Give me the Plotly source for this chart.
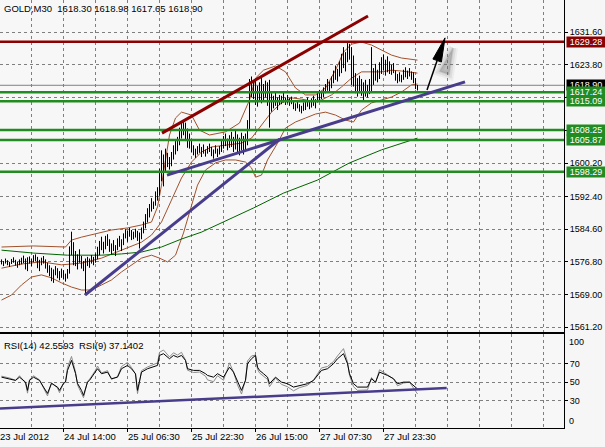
import math
import plotly.graph_objects as go

# ---------------- price bars (GOLD, M30), bar index 0..208 ----------------
highs = [
    1577.4, 1577.0, 1577.6, 1577.2, 1576.8, 1577.5, 1577.9, 1577.3, 1576.9, 1577.4,
    1577.8, 1578.3, 1577.6, 1577.9, 1578.1, 1577.5, 1578.4,
    1578.6, 1578.0, 1577.3, 1577.8, 1578.2, 1577.4, 1576.6,
    1576.0, 1575.4, 1575.0, 1575.8, 1575.3, 1574.6, 1575.2, 1574.8, 1574.0, 1575.1,
    1580.5, 1584.0, 1581.5,
    1579.4, 1578.6, 1579.8, 1578.2, 1577.0,
    1577.6,
    1578.0, 1577.6, 1578.4, 1578.0, 1578.8, 1580.4,
    1581.8, 1582.8, 1581.6, 1583.0, 1583.4, 1582.2,
    1581.2, 1582.0, 1580.8, 1582.4, 1583.0, 1582.2, 1583.6,
    1584.6, 1584.2, 1584.9, 1584.4, 1584.0, 1584.7, 1584.2,
    1583.8,
    1585.0, 1586.4, 1588.2, 1589.6, 1590.6,
    1592.0, 1591.2, 1593.6, 1594.6,
    1599.0, 1603.4, 1602.4, 1603.8, 1602.8, 1601.8, 1603.0,
    1604.6, 1605.8, 1606.6,
    1608.8, 1610.2, 1610.6, 1610.0,
    1608.6, 1607.4, 1606.0,
    1604.6, 1603.8, 1604.4, 1605.0, 1604.2, 1604.8, 1603.6, 1604.4, 1605.0,
    1604.2, 1603.6, 1604.6, 1603.8, 1604.4,
    1605.6, 1606.8, 1607.4, 1606.2, 1607.0,
    1607.8, 1606.6, 1608.0, 1607.2, 1606.4, 1607.6, 1606.8, 1607.4,
    1610.6, 1620.4,
    1621.0, 1619.8,
    1620.4, 1618.8, 1619.6,
    1620.8, 1619.2, 1620.0,
    1619.6, 1620.2, 1617.0,
    1616.4, 1617.2, 1616.0, 1616.6,
    1616.4, 1617.2, 1616.0, 1616.6, 1615.8, 1616.2,
    1615.0, 1614.6, 1615.2, 1614.4, 1614.0, 1614.8,
    1615.4, 1616.0, 1615.2, 1615.8, 1616.4, 1615.6,
    1617.0, 1617.8, 1617.4, 1618.4,
    1619.2, 1620.4, 1619.8, 1621.0,
    1622.4, 1623.6, 1622.8, 1624.6,
    1626.4, 1628.0, 1626.8,
    1629.3, 1628.8, 1628.0, 1626.0,
    1621.8, 1620.6, 1621.2,
    1620.4, 1619.6, 1620.2, 1619.0, 1620.4,
    1628.0,
    1623.0, 1624.0, 1622.6, 1624.4,
    1625.6, 1626.2, 1625.0, 1625.8,
    1624.6, 1623.8, 1624.2,
    1622.4, 1621.6, 1622.0, 1621.4,
    1622.6, 1623.2, 1622.4, 1623.0, 1622.2,
    1622.0, 1620.6, 1618.98,
]
lows = [
    1576.2, 1575.8, 1576.4, 1576.0, 1575.6, 1576.3, 1576.6, 1575.9, 1575.4, 1576.0,
    1576.2, 1576.5, 1575.0, 1574.6, 1576.4, 1575.8, 1576.7,
    1576.9, 1575.3, 1574.6, 1576.0, 1576.4, 1575.2, 1574.2,
    1573.4, 1572.2, 1571.8, 1573.6, 1572.9, 1572.4, 1573.0, 1572.6, 1572.1, 1572.8,
    1574.0, 1578.4, 1576.0,
    1575.8, 1575.0, 1576.6, 1575.2, 1574.6,
    1569.2,
    1575.8, 1575.4, 1576.4, 1576.0, 1576.6, 1577.4,
    1578.4, 1579.6, 1578.8, 1579.8, 1580.6, 1579.2,
    1578.6, 1579.4, 1578.2, 1579.6, 1580.4, 1579.4, 1580.8,
    1582.4, 1581.6, 1582.8, 1582.0, 1582.2, 1582.6, 1581.8,
    1580.0,
    1582.2, 1583.6, 1584.8, 1586.2, 1587.4,
    1588.8, 1589.4, 1590.2, 1591.4,
    1592.6, 1596.0, 1594.8, 1598.0, 1599.4, 1598.8, 1599.6,
    1601.2, 1602.4, 1603.2,
    1604.6, 1606.2, 1607.0, 1605.6,
    1604.0, 1603.8, 1603.0,
    1602.2, 1601.6, 1602.4, 1602.8, 1601.8, 1602.6, 1601.9, 1602.6, 1603.0,
    1602.0, 1601.4, 1602.6, 1601.8, 1602.4,
    1603.0, 1603.8, 1604.4, 1603.4, 1604.0,
    1604.2, 1603.0, 1603.6, 1602.6, 1602.2, 1603.4, 1602.4, 1603.2,
    1604.6, 1608.4,
    1616.0, 1615.6,
    1614.2, 1613.8, 1615.0,
    1614.6, 1615.4, 1616.0,
    1614.0, 1608.8, 1612.6,
    1613.4, 1614.0, 1613.0, 1614.2,
    1614.4, 1614.8, 1614.2, 1614.6, 1614.0, 1614.4,
    1613.2, 1612.8, 1613.4, 1612.6, 1612.2, 1612.8,
    1613.0, 1613.8, 1613.2, 1613.6, 1614.0, 1613.4,
    1614.8, 1615.4, 1615.6, 1616.0,
    1617.0, 1617.6, 1617.4, 1618.2,
    1619.4, 1620.2, 1619.8, 1621.0,
    1621.8, 1623.0, 1622.2,
    1624.4, 1625.0, 1619.0, 1618.6,
    1617.0, 1616.2, 1617.0,
    1616.4, 1615.0, 1616.2, 1616.0, 1616.8,
    1617.2,
    1619.0, 1620.0, 1619.6, 1620.4,
    1621.6, 1622.4, 1621.2, 1622.0,
    1621.6, 1621.4, 1621.8,
    1620.0, 1619.4, 1619.8, 1619.6,
    1620.2, 1620.8, 1620.4, 1621.0, 1620.2,
    1619.4, 1618.0, 1617.65,
]

# ---------------- Bollinger bands (bar index, price) ----------------
bb_upper_idx = [0, 16, 32, 35, 40, 48, 55, 63, 70, 75, 78, 80, 82, 84, 87, 90, 95, 99, 104,
                112, 119, 124, 127, 131, 137, 142, 147, 152, 157, 162, 167, 171, 175, 180,
                185, 190, 195, 200, 208]
bb_upper = [1580.35, 1580.6, 1580.35, 1582.0, 1582.7, 1583.7, 1584.4, 1584.9, 1585.6, 1586.3,
            1589.9, 1595.1, 1601.1, 1607.05, 1611.1, 1612.5, 1611.8, 1608.2, 1607.05,
            1607.8, 1609.9, 1615.4, 1620.6, 1622.5, 1623.5, 1622.1, 1618.25, 1616.6, 1616.6,
            1618.25, 1622.5, 1626.8, 1628.7, 1629.2, 1628.5, 1627.3, 1626.1, 1625.4, 1624.9]
bb_mid_idx = [0, 10, 20, 30, 40, 50, 60, 70, 75, 80, 85, 90, 95, 100, 105, 115, 120, 125, 130,
              135, 140, 145, 150, 155, 160, 165, 170, 175, 180, 190, 195, 200, 208]
bb_mid = [1575.3, 1576.3, 1576.8, 1576.1, 1576.5, 1577.7, 1579.6, 1581.5, 1583.2, 1586.3,
          1591.55, 1596.8, 1600.6, 1603.0, 1604.2, 1604.7, 1605.1, 1606.3, 1609.4, 1612.5,
          1614.7, 1615.9, 1615.6, 1615.15, 1615.4, 1616.6, 1618.5, 1620.6, 1622.1, 1622.1,
          1622.5, 1622.3, 1621.8]
bb_lower_idx = [0, 5, 10, 15, 20, 25, 30, 35, 40, 45, 50, 55, 60, 65, 70, 75, 79, 83, 87, 91,
                95, 98, 102, 107, 112, 117, 122, 125, 127, 130, 133, 138, 142, 147, 152, 157,
                162, 167, 172, 176, 180, 185, 190, 195, 200, 205, 208]
bb_lower = [1567.7, 1568.9, 1571.3, 1573.2, 1573.7, 1573.0, 1571.8, 1570.8, 1570.1, 1570.1,
            1571.3, 1572.5, 1574.4, 1576.1, 1577.7, 1578.4, 1577.7, 1576.8, 1578.4, 1583.7,
            1589.9, 1595.1, 1598.7, 1600.4, 1601.1, 1601.1, 1600.6, 1599.2, 1597.0, 1597.5,
            1601.1, 1605.1, 1608.7, 1610.15, 1611.1, 1612.05, 1612.5, 1611.8, 1610.6, 1610.15,
            1613.0, 1614.7, 1615.4, 1616.1, 1617.3, 1619.0, 1619.2]

# ---------------- long moving average ----------------
ma_idx = [0, 16, 33, 50, 60, 70, 80, 90, 100, 113, 126, 141, 158, 174, 190, 208]
ma_vals = [1579.6, 1578.9, 1578.4, 1578.4, 1578.7, 1579.15, 1580.35, 1582.25, 1583.9,
           1586.8, 1589.65, 1593.2, 1596.3, 1600.4, 1603.5, 1606.3]

# ---------------- horizontal levels ----------------
green_levels = [1617.24, 1615.09, 1608.25, 1605.87, 1598.29]
red_level = 1629.28
last_price = 1618.90

# ---------------- drawn trend lines (bar index, price) ----------------
blue_line_a = ([41.75, 139.25], [1568.9, 1606.1])
blue_line_b = ([82.75, 231.75], [1597.5, 1619.7])
red_line = ([80.25, 183.25], [1607.5, 1635.4])
arrow_tail = (212.75, 1617.8)
arrow_tip = (221.75, 1630.2)

# ---------------- RSI ----------------
rsi_idx = [0, 4, 7, 9, 12, 13, 14, 16, 19, 21, 23, 25, 28, 29, 31, 32, 33, 35, 37, 38,
           40, 41, 43, 44, 47, 48, 50, 53, 55, 58, 60, 63, 65, 67, 68, 70, 73, 75, 78, 79,
           81, 84, 86, 88, 90, 92, 93, 96, 99, 102, 103, 106, 108, 111, 114, 116, 118, 120,
           122, 123, 125, 127, 128, 129, 131, 133, 134, 137, 140, 143, 146, 149, 153, 156,
           158, 160, 163, 166, 168, 171, 173, 174, 176, 178, 183, 185, 187, 189, 193, 196,
           198, 201, 204, 206, 208]
rsi14 = [55.4, 53.7, 51.9, 55.4, 50.0, 41.0, 51.9, 55.4, 51.9, 44.6,
         37.7, 48.6, 44.6, 41.0, 48.6, 50.0, 62.8, 73.7, 59.5, 48.6,
         41.0, 35.5, 50.0, 51.9, 60.9, 64.6, 59.2, 60.9, 53.7, 55.4,
         64.6, 68.2, 64.6, 59.2, 41.0, 60.9, 64.6, 66.3, 68.2, 79.1,
         81.0, 75.5, 79.1, 77.2, 79.1, 73.7, 64.6, 62.8, 62.8, 59.2,
         57.3, 55.4, 59.2, 55.4, 66.3, 60.9, 50.0, 41.0, 51.9, 70.1,
         75.5, 79.1, 66.3, 62.8, 59.2, 55.4, 48.3, 55.4, 50.0, 48.3,
         44.6, 46.4, 48.3, 51.9, 57.3, 62.8, 64.6, 70.1, 75.5, 81.0,
         70.1, 59.2, 48.3, 44.6, 44.6, 53.7, 50.0, 60.9, 57.3, 53.7,
         48.3, 50.0, 50.0, 46.4, 42.5593]
rsi9 = [56.5, 54.5, 52.0, 57.0, 49.0, 38.0, 52.5, 57.0, 52.5, 43.0,
        35.0, 49.5, 43.5, 38.5, 49.0, 50.5, 66.0, 78.0, 61.0, 47.0,
        38.0, 33.0, 51.0, 53.0, 63.0, 67.5, 60.0, 62.5, 53.0, 56.0,
        67.0, 71.5, 66.0, 58.5, 37.5, 62.5, 66.5, 68.5, 71.0, 82.5,
        85.0, 77.5, 82.0, 79.5, 82.5, 74.0, 63.0, 60.5, 61.0, 56.5,
        52.5, 50.5, 57.0, 52.0, 71.0, 61.0, 47.0, 37.0, 52.5, 73.0,
        78.5, 79.5, 64.0, 60.0, 56.5, 53.0, 45.0, 54.5, 47.5, 45.0,
        40.5, 44.0, 46.5, 52.0, 59.0, 65.5, 67.0, 72.5, 78.5, 86.5,
        72.0, 57.5, 45.0, 41.0, 41.5, 55.0, 49.0, 63.5, 58.0, 53.5,
        46.0, 49.0, 50.0, 44.0, 37.1402]
rsi_trend = ([-0.75, 222.6], [21.3, 43.5])

# ---------------- axes ticks / labels ----------------
price_ticks = [1631.6, 1623.8, 1616.0, 1608.2, 1600.3, 1592.4, 1584.6, 1576.8, 1569.0, 1561.2]
price_tick_text = ["1631.60", "1623.80", "", "", "1600.20", "1592.40", "1584.60",
                   "1576.80", "1569.00", "1561.20"]
rsi_ticks = [70, 50, 30]
rsi_tick_text = ["70", "50", "30"]
grid_idx = [15 + 16 * k for k in range(17)]
time_label_idx = [-1, 31, 63, 95, 127, 159, 191]
time_labels = ["23 Jul 2012", "24 Jul 14:00", "25 Jul 06:30", "25 Jul 22:30",
               "26 Jul 15:00", "27 Jul 07:30", "27 Jul 23:30"]

# ---------------- layout constants ----------------
W, H = 605, 447
M_L, M_R, M_T, M_B = 0, 41, 0, 19
X_RANGE = [-0.75, 281.25]
PRICE_RANGE = [1560.16, 1639.23]
MAIN_DOMAIN = [0.225, 1.0]
RSI_DOMAIN = [0.0, 0.2196]
FONT = "Liberation Sans"
GREEN = "#228b22"
DARKRED = "#8b0000"
BLUE = "#483d8b"
BROWN = "#a0522d"
GRID = "#7f7f7f"

plot_w = W - M_L - M_R
plot_h = H - M_T - M_B
px_per_bar = plot_w / (X_RANGE[1] - X_RANGE[0])
px_per_price = plot_h * (MAIN_DOMAIN[1] - MAIN_DOMAIN[0]) / (PRICE_RANGE[1] - PRICE_RANGE[0])

fig = go.Figure()


def add_line(x, y, color, width, xa="x", ya="y", **kw):
    fig.add_trace(go.Scatter(x=x, y=y, mode="lines", line=dict(color=color, width=width),
                             hoverinfo="skip", showlegend=False, xaxis=xa, yaxis=ya, **kw))


# Bollinger bands and MA
add_line(bb_upper_idx, bb_upper, BROWN, 1)
add_line(bb_mid_idx, bb_mid, BROWN, 1)
add_line(bb_lower_idx, bb_lower, BROWN, 1)
add_line(ma_idx, ma_vals, "#006400", 1)

# current price line
add_line(X_RANGE, [last_price, last_price], "#808080", 1)

# price bars
bx, by = [], []
for i, (h, l) in enumerate(zip(highs, lows)):
    bx += [i, i, None]
    by += [l, h, None]
add_line(bx, by, "black", 1)

# horizontal levels
for lv in green_levels:
    add_line(X_RANGE, [lv, lv], GREEN, 2.5)
add_line(X_RANGE, [red_level, red_level], DARKRED, 2.5)

# trend lines
add_line(blue_line_a[0], blue_line_a[1], BLUE, 3)
add_line(blue_line_b[0], blue_line_b[1], BLUE, 3)
add_line(red_line[0], red_line[1], DARKRED, 3)

# arrow object: shaft + narrow filled head, built from tail/tip
dxp = (arrow_tip[0] - arrow_tail[0]) * px_per_bar
dyp = (arrow_tip[1] - arrow_tail[1]) * px_per_price
ln = math.hypot(dxp, dyp)
ux, uy = dxp / ln, dyp / ln
head_len, head_half = 24.0, 4.5


def head_poly(ox=0.0, oy=0.0, grow=1.0):
    tx, ty = arrow_tip[0] + ox / px_per_bar, arrow_tip[1] + oy / px_per_price
    bxp, byp = -ux * head_len * grow, -uy * head_len * grow
    nx, ny = -uy * head_half * grow, ux * head_half * grow
    xs = [tx, tx + (bxp + nx) / px_per_bar, tx + (bxp - nx) / px_per_bar, tx]
    ys = [ty, ty + (byp + ny) / px_per_price, ty + (byp - ny) / px_per_price, ty]
    return xs, ys


base_x = arrow_tip[0] - ux * head_len / px_per_bar
base_y = arrow_tip[1] - uy * head_len / px_per_price
# soft blurred shadow (layered translucent copies)
for width, alpha in [(10, 0.08), (6, 0.12), (2, 0.18)]:
    sx, sy = head_poly(8, -10, 1.1)
    fig.add_trace(go.Scatter(x=sx, y=sy, mode="lines", fill="toself",
                             fillcolor=f"rgba(110,110,110,{alpha})",
                             line=dict(color=f"rgba(110,110,110,{alpha})", width=width),
                             hoverinfo="skip", showlegend=False))
add_line([arrow_tail[0], base_x], [arrow_tail[1], base_y], "black", 1.5)
hx, hy = head_poly()
fig.add_trace(go.Scatter(x=hx, y=hy, mode="lines", fill="toself", fillcolor="black",
                         line=dict(color="black", width=1), hoverinfo="skip", showlegend=False))

# RSI panel
add_line(rsi_idx, rsi9, "#8c8c8c", 1, "x2", "y2")
add_line(rsi_idx, rsi14, "black", 1, "x2", "y2")
add_line(rsi_trend[0], rsi_trend[1], BLUE, 2.5, "x2", "y2")

common_x = dict(range=X_RANGE, showgrid=True, gridcolor=GRID, griddash="3px,3px", gridwidth=1,
                tickvals=time_label_idx, showticklabels=False, zeroline=False,
                showline=True, linecolor="black", linewidth=1, fixedrange=True,
                minor=dict(tickvals=grid_idx, showgrid=True, gridcolor=GRID,
                           griddash="3px,3px", gridwidth=1, ticks=""))

fig.update_layout(
    width=W, height=H, autosize=False,
    margin=dict(l=M_L, r=M_R, t=M_T, b=M_B),
    paper_bgcolor="#f6f6f6", plot_bgcolor="#f7f7f7",
    showlegend=False,
    font=dict(family=FONT, size=9, color="black"),
    xaxis=dict(**common_x, anchor="y", ticks=""),
    xaxis2=dict(**common_x, anchor="y2", matches="x", mirror=True,
                ticks="outside", ticklen=3, tickcolor="black"),
    yaxis=dict(domain=MAIN_DOMAIN, range=PRICE_RANGE, side="right",
               tickvals=price_ticks, ticktext=price_tick_text,
               showgrid=True, gridcolor=GRID, griddash="3px,3px", gridwidth=1,
               ticks="outside", ticklen=3, tickcolor="black",
               showline=True, linecolor="black", linewidth=1, zeroline=False,
               tickfont=dict(family=FONT, size=9, color="black"), anchor="x"),
    yaxis2=dict(domain=RSI_DOMAIN, range=[0, 102.45], side="right",
                tickvals=rsi_ticks, ticktext=rsi_tick_text,
                showgrid=True, gridcolor=GRID, griddash="3px,3px", gridwidth=1,
                ticks="outside", ticklen=3, tickcolor="black",
                showline=True, linecolor="black", linewidth=1, zeroline=False,
                tickfont=dict(family=FONT, size=9, color="black"), anchor="x2"),
)

ann = []
ann.append(dict(text="GOLD,M30  1618.30 1618.98 1617.65 1618.90", xref="paper", yref="paper",
                x=0, y=1, xanchor="left", yanchor="top", xshift=2, yshift=-1,
                showarrow=False, font=dict(family=FONT, size=9.5, color="black")))
ann.append(dict(text="RSI(14) 42.5593  RSI(9) 37.1402", xref="paper", yref="paper",
                x=0, y=RSI_DOMAIN[1], xanchor="left", yanchor="top", xshift=2, yshift=-4,
                showarrow=False, font=dict(family=FONT, size=9.5, color="black")))
for xi, txt in zip(time_label_idx, time_labels):
    xp = (xi - X_RANGE[0]) / (X_RANGE[1] - X_RANGE[0])
    ann.append(dict(text=txt, xref="paper", yref="paper", x=xp, y=-9 / plot_h,
                    xanchor="left", yanchor="middle", xshift=-2, showarrow=False,
                    font=dict(family=FONT, size=9.5, color="black")))
ann.append(dict(text="100", xref="paper", yref="y2", x=1, y=94, xanchor="left",
                yanchor="middle", xshift=3, showarrow=False,
                font=dict(family=FONT, size=9, color="black")))
ann.append(dict(text="0", xref="paper", yref="y2", x=1, y=7.2, xanchor="left",
                yanchor="middle", xshift=3, showarrow=False,
                font=dict(family=FONT, size=9, color="black")))


def price_box(val, bg):
    return dict(text=f"{val:.2f}", xref="paper", yref="y", x=1, y=val, xanchor="left",
                yanchor="middle", xshift=2, showarrow=False, bgcolor=bg, borderpad=0,
                width=38, height=10, align="center",
                font=dict(family=FONT, size=9, color="white"))


ann.append(price_box(last_price, "black"))
ann.append(price_box(red_level, DARKRED))
for lv in green_levels:
    ann.append(price_box(lv, GREEN))

fig.update_layout(annotations=ann)
fig.write_html("out.html",
               config={"displayModeBar": False, "staticPlot": True},
               post_script="document.body.style.margin='0';document.body.style.padding='0';"
                           "document.body.style.overflow='hidden';")
